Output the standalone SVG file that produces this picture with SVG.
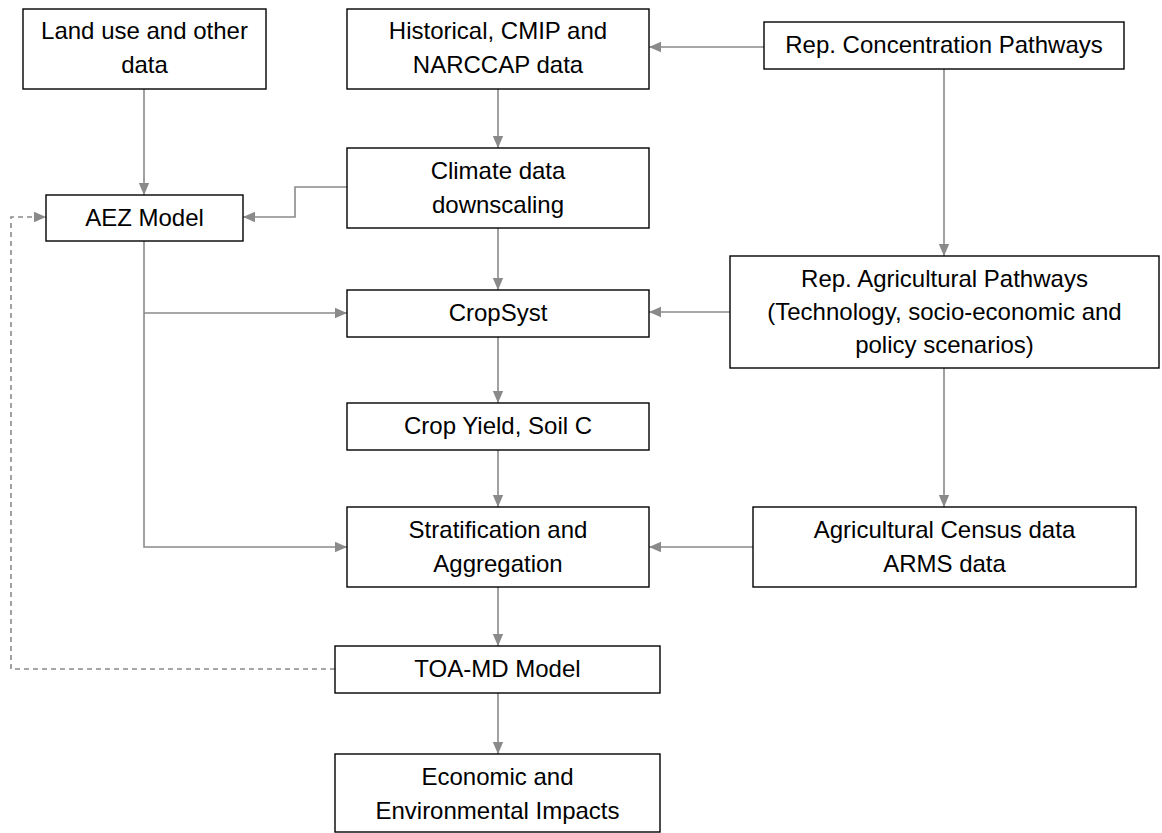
<svg xmlns="http://www.w3.org/2000/svg" width="1162" height="833" viewBox="0 0 1162 833">
<style>
.box{fill:#fff;stroke:#000;stroke-width:1.4}
.t{font-family:"Liberation Sans",Arial,sans-serif;font-size:24px;fill:#000;text-anchor:middle}
.c{fill:none;stroke:#8a8a8a;stroke-width:1.6}
.d{fill:none;stroke:#8a8a8a;stroke-width:1.6;stroke-dasharray:5 4}
</style>
<defs>
<marker id="ah" markerUnits="userSpaceOnUse" markerWidth="12" markerHeight="12" viewBox="0 0 12 12" refX="12" refY="6" orient="auto">
<path d="M0,0.8 L12,6 L0,11.2 Z" fill="#8a8a8a"/>
</marker>
</defs>
<rect width="1162" height="833" fill="#fff"/>
<g id="connectors">
<path class="c" d="M144,89 V195" marker-end="url(#ah)"/>
<path class="c" d="M764,47 H649" marker-end="url(#ah)"/>
<path class="c" d="M498,89 V148" marker-end="url(#ah)"/>
<path class="c" d="M347,187 H295 V217 H243" marker-end="url(#ah)"/>
<path class="c" d="M498,228 V290" marker-end="url(#ah)"/>
<path class="c" d="M144,241 V547 H347" marker-end="url(#ah)"/>
<path class="c" d="M144,313 H347" marker-end="url(#ah)"/>
<path class="c" d="M944,69 V256" marker-end="url(#ah)"/>
<path class="c" d="M730,312 H649" marker-end="url(#ah)"/>
<path class="c" d="M498,337 V403" marker-end="url(#ah)"/>
<path class="c" d="M498,450 V507" marker-end="url(#ah)"/>
<path class="c" d="M944,368 V507" marker-end="url(#ah)"/>
<path class="c" d="M753,547 H649" marker-end="url(#ah)"/>
<path class="c" d="M498,587 V646" marker-end="url(#ah)"/>
<path class="c" d="M498,693 V754" marker-end="url(#ah)"/>
<path class="d" d="M335,669 H11 V217 H46" marker-end="url(#ah)"/>
</g>
<g id="landuse"><rect class="box" x="23" y="9" width="243" height="80"/><text class="t" x="144.5" y="39">Land use and other</text><text class="t" x="144.5" y="73">data</text></g>
<g id="historical"><rect class="box" x="347" y="9" width="302" height="80"/><text class="t" x="498" y="39">Historical, CMIP and</text><text class="t" x="498" y="73">NARCCAP data</text></g>
<g id="rcp"><rect class="box" x="764" y="22" width="360" height="47"/><text class="t" x="944" y="53">Rep. Concentration Pathways</text></g>
<g id="aez"><rect class="box" x="46" y="195" width="197" height="46"/><text class="t" x="144.5" y="226">AEZ Model</text></g>
<g id="climate"><rect class="box" x="347" y="148" width="302" height="80"/><text class="t" x="498" y="179">Climate data</text><text class="t" x="498" y="213">downscaling</text></g>
<g id="cropsyst"><rect class="box" x="347" y="290" width="302" height="47"/><text class="t" x="498" y="321">CropSyst</text></g>
<g id="rap"><rect class="box" x="730" y="256" width="429" height="112"/><text class="t" x="944.5" y="287">Rep. Agricultural Pathways</text><text class="t" x="944.5" y="320">(Technology, socio-economic and</text><text class="t" x="944.5" y="353">policy scenarios)</text></g>
<g id="cropyield"><rect class="box" x="347" y="403" width="302" height="47"/><text class="t" x="498" y="434">Crop Yield, Soil C</text></g>
<g id="strat"><rect class="box" x="347" y="507" width="302" height="80"/><text class="t" x="498" y="538">Stratification and</text><text class="t" x="498" y="572">Aggregation</text></g>
<g id="census"><rect class="box" x="753" y="507" width="383" height="80"/><text class="t" x="944.5" y="538">Agricultural Census data</text><text class="t" x="944.5" y="572">ARMS data</text></g>
<g id="toamd"><rect class="box" x="335" y="646" width="325" height="47"/><text class="t" x="497.5" y="677">TOA-MD Model</text></g>
<g id="impacts"><rect class="box" x="335" y="754" width="325" height="78"/><text class="t" x="497.5" y="785">Economic and</text><text class="t" x="497.5" y="819">Environmental Impacts</text></g>
</svg>
